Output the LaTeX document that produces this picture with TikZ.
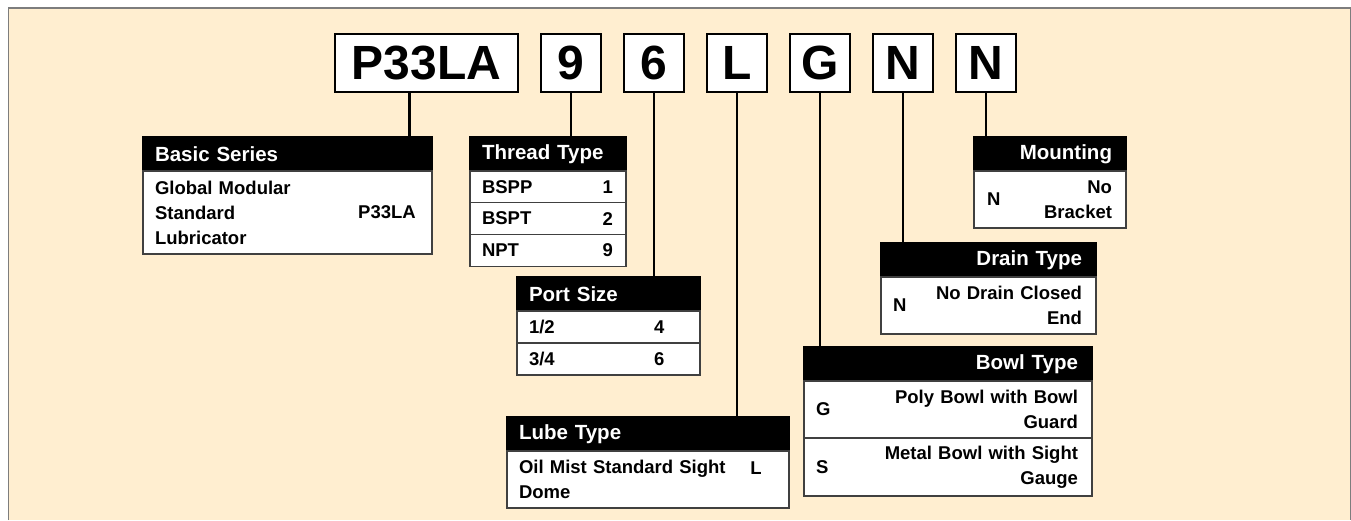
\documentclass[tikz,border=0pt]{standalone}
\usepackage{fontspec}
\setmainfont{Liberation Sans}
\usepackage{tikz}
\usetikzlibrary{positioning}

\definecolor{cream}{RGB}{255,238,208}
\definecolor{framegray}{RGB}{125,125,125}
\newcommand{\codefont}{\fontsize{48}{48}\selectfont\bfseries}
\newcommand{\hdfont}{\fontsize{20.5}{24}\selectfont\bfseries}
\newcommand{\bdfont}{\fontsize{18.5}{25}\selectfont\bfseries}

\begin{document}
\begin{tikzpicture}[
  x=1pt, y=-1pt,
  codebox/.style={
    draw=black,
    line width=2pt,
    fill=white,
    minimum width=60pt,
    minimum height=58pt,
    inner sep=0pt,
    font=\codefont
  },
  tab/.style={
    draw=black!75,
    line width=1.2pt,
    fill=white,
    anchor=north west,
    outer sep=0pt,
    inner xsep=12pt,
    inner ysep=0pt,
    font=\bdfont
  },
  head/.style={tab, fill=black, draw=black, text=white, font=\hdfont, minimum height=34pt},
  rtab/.style={inner xsep=14pt, align=right},
  val/.style={inner sep=0pt, font=\bdfont},
  link/.style={line width=2.2pt, draw=black}
]
  \useasboundingbox (0,0) rectangle (1351,520);
  \fill[cream] (8.5,8) rectangle (1350.5,520);
  \draw[framegray, line width=1.2pt] (8.5,520) -- (8.5,8) -- (1350.5,8) -- (1350.5,520);

  % model code
  \node[codebox, minimum width=183pt] (cSeries) at (426.5,63) {P33LA};
  \node[codebox, right=21pt of cSeries] (cThread) {9};
  \node[codebox, right=21pt of cThread] (cPort) {6};
  \node[codebox, right=21pt of cPort] (cLube) {L};
  \node[codebox, right=21pt of cLube] (cBowl) {G};
  \node[codebox, right=21pt of cBowl] (cDrain) {N};
  \node[codebox, right=21pt of cDrain] (cMount) {N};

  % basic series
  \node[head, text width=265pt, align=left] (hSeries) at (143,137) {Basic Series};
  \node[tab, text width=265pt, align=left, minimum height=83pt] (bSeries) at (hSeries.south west) {Global Modular\\Standard\\Lubricator};
  \node[val, anchor=east] (vSeries) at ([xshift=-16pt]bSeries.east) {P33LA};

  % thread type
  \node[head, text width=132pt, align=left] (hThread) at (470,137) {Thread Type};
  \node[tab, text width=132pt, align=left, minimum height=31.7pt] (rThreadA) at (hThread.south west) {BSPP};
  \node[tab, text width=132pt, align=left, minimum height=31.7pt] (rThreadB) at (rThreadA.south west) {BSPT};
  \node[tab, text width=132pt, align=left, minimum height=31.7pt] (rThreadC) at (rThreadB.south west) {NPT};
  \node[val, anchor=east] (vThreadA) at ([xshift=-13pt]rThreadA.east) {1};
  \node[val, anchor=east] (vThreadB) at ([xshift=-13pt]rThreadB.east) {2};
  \node[val, anchor=east] (vThreadC) at ([xshift=-13pt]rThreadC.east) {9};

  % port size
  \node[head, text width=159pt, align=left] (hPort) at (517,277) {Port Size};
  \node[tab, text width=159pt, align=left, minimum height=32pt] (rPortA) at (hPort.south west) {1/2};
  \node[tab, text width=159pt, align=left, minimum height=32pt] (rPortB) at (rPortA.south west) {3/4};
  \node[val, anchor=west] (vPortA) at ([xshift=-46pt]rPortA.east) {4};
  \node[val, anchor=west] (vPortB) at ([xshift=-46pt]rPortB.east) {6};

  % lube type
  \node[head, text width=258pt, align=left] (hLube) at (507,417) {Lube Type};
  \node[tab, text width=258pt, align=left, minimum height=57pt] (bLube) at (hLube.south west) {Oil Mist Standard Sight\\Dome};
  \node[val] (vLube) at ([xshift=-33pt, yshift=11.5pt]bLube.east) {L};

  % bowl type
  \node[head, rtab, text width=260pt] (hBowl) at (804,347) {Bowl Type};
  \node[tab, rtab, text width=260pt, minimum height=57pt] (rBowlA) at (hBowl.south west) {Poly Bowl with Bowl\\Guard};
  \node[tab, rtab, text width=260pt, minimum height=58pt] (rBowlB) at (rBowlA.south west) {Metal Bowl with Sight\\Gauge};
  \node[val, anchor=west] (vBowlA) at ([xshift=12pt]rBowlA.west) {G};
  \node[val, anchor=west] (vBowlB) at ([xshift=12pt]rBowlB.west) {S};

  % drain type
  \node[head, rtab, text width=187pt] (hDrain) at (881,243) {Drain Type};
  \node[tab, rtab, text width=187pt, minimum height=57pt] (bDrain) at (hDrain.south west) {No Drain Closed\\End};
  \node[val, anchor=west] (vDrain) at ([xshift=12pt]bDrain.west) {N};

  % mounting
  \node[head, rtab, text width=124pt] (hMount) at (974,137) {Mounting};
  \node[tab, rtab, text width=124pt, minimum height=57pt] (bMount) at (hMount.south west) {No\\Bracket};
  \node[val, anchor=west] (vMount) at ([xshift=13pt]bMount.west) {N};

  % connectors
  \coordinate (pSeries) at ([xshift=-17pt]cSeries.south);
  \draw[link] (pSeries) -- (pSeries |- hSeries.north);
  \draw[link] (cThread.south) -- (cThread.south |- hThread.north);
  \draw[link] (cPort.south) -- (cPort.south |- hPort.north);
  \draw[link] (cLube.south) -- (cLube.south |- hLube.north);
  \draw[link] (cBowl.south) -- (cBowl.south |- hBowl.north);
  \draw[link] (cDrain.south) -- (cDrain.south |- hDrain.north);
  \draw[link] (cMount.south) -- (cMount.south |- hMount.north);
\end{tikzpicture}
\end{document}
